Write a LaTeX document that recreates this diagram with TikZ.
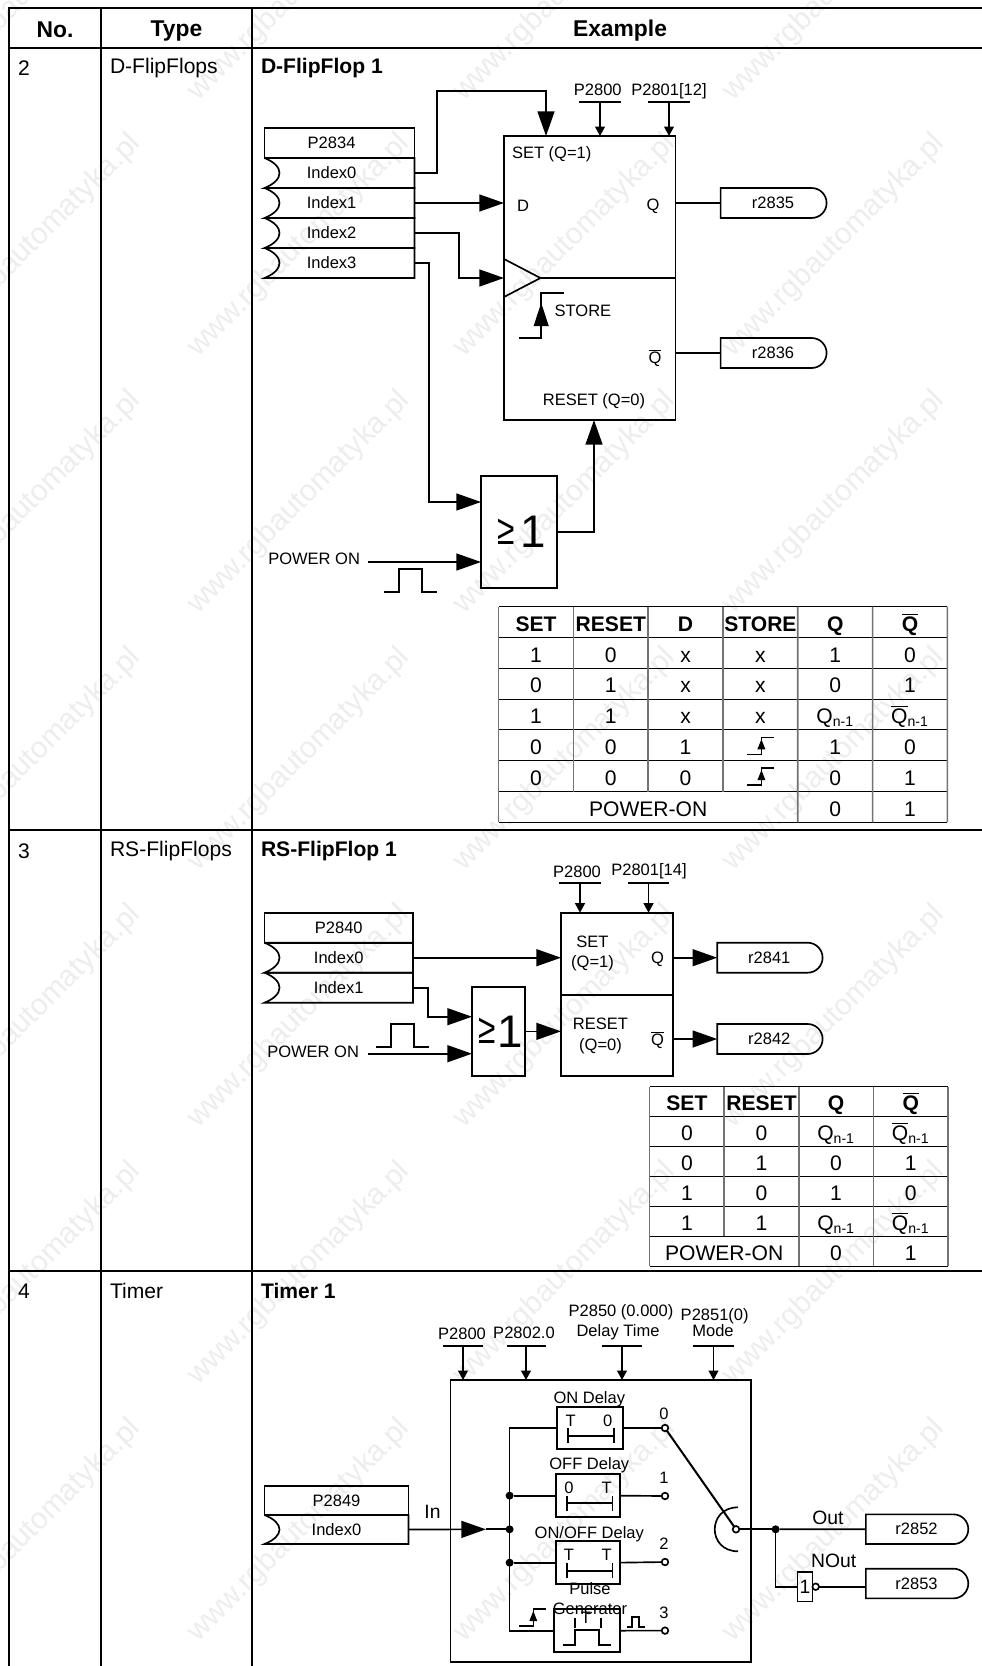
\documentclass[tikz,border=0pt]{standalone}
\usepackage{fontspec}
\setmainfont{Liberation Sans}
\usetikzlibrary{arrows.meta, positioning, shapes.misc, calc}

\newcommand{\px}{0.02cm}
\newcommand{\smalltxt}{\fontsize{9.4}{11}\selectfont}
\newcommand{\midtxt}{\fontsize{11}{13}\selectfont}
\newcommand{\celltxt}{\fontsize{12}{14}\selectfont}
\newcommand{\headtxt}{\fontsize{13}{15}\bfseries\selectfont}
\newcommand{\orsign}[1]{\kern3pt\raisebox{2pt}{\scalebox{0.75}[1]{\fontsize{24}{24}\selectfont ≥}}\kern#1{\fontsize{26}{26}\selectfont 1}}
\newcommand{\Qbar}{$\overline{\hbox{Q}}$}
\newcommand{\Qn}{Q\textsubscript{n-1}}
\newcommand{\Qbarn}{\Qbar\textsubscript{n-1}}
\newcommand{\indexedge}[1]{\draw[line] (#1.north west) -- (#1.north east) -- (#1.south east) -- (#1.south west)
  .. controls ($(#1.south west)+(20,-8)$) and ($(#1.north west)+(20,8)$) .. (#1.north west);}

\begin{document}
\begin{tikzpicture}[
    x=\px, y=-\px,
    node distance=0pt,
    boxsize/.style 2 args={minimum width=#1*\px, minimum height=#2*\px},
    line/.style={line width=0.95pt},
    frame/.style={line width=1.15pt},
    tag/.style={font=\smalltxt, inner sep=0pt, outer sep=0pt},
    tagleft/.style={tag, anchor=west},
    blk/.style={draw, line width=0.95pt, rectangle, inner sep=0pt, outer sep=0pt, font=\smalltxt},
    idx/.style={rectangle, inner sep=0pt, outer sep=0pt, font=\smalltxt},
    rbox/.style={blk, rounded rectangle, rounded rectangle west arc=none},
    orbox/.style={blk, font=\celltxt},
    parbar/.style={rectangle, fill=black, inner sep=0pt, outer sep=0pt, minimum height=1.1pt},
    arrowbig/.style={line, -{Triangle[length=14pt, width=9.6pt]}},
    arrowsmall/.style={line, -{Triangle[length=5.4pt, width=5.6pt]}},
    tspan/.style={line, {Bar[width=8.3pt]}-{Bar[width=8.3pt]}},
    contact/.style={circle, draw, line width=0.95pt, fill=white, inner sep=0pt, outer sep=0pt, minimum size=6.6*\px},
    dot/.style={circle, fill=black, inner sep=0pt, outer sep=0pt, minimum size=8*\px},
    cell/.style={rectangle, inner sep=0pt, outer sep=0pt, boxsize={74.8}{30.8}, font=\celltxt, text height=10.4pt, text depth=0pt},
    cellhead/.style={cell, font=\celltxt\bfseries},
    hline/.style={line width=0.55pt},
    vline/.style={line width=0.95pt, black!55},
    wm/.style={rotate=45, inner sep=0pt, black!7, font=\fontsize{17}{17}\selectfont, node contents=www.rgbautomatyka.pl},
    risemark/.pic={
      \draw[line width=0.7pt] (-13,9) -- (1,9) -- (1,-8) -- (14,-8);
      \fill (1,-6) -- (-3,4) -- (5,4) -- cycle;
    }
  ]
    \useasboundingbox (0,0) rectangle (982,1666);
    \clip (0,0) rectangle (982,1666);

    % Watermark
    \node (w11) at (30,-10) [wm];
    \node (w12) at (299,-10) [wm];
    \node (w13) at (565,-10) [wm];
    \node (w14) at (834,-10) [wm];
    \node (w21) at (30,246) [wm];
    \node (w22) at (299,246) [wm];
    \node (w23) at (565,246) [wm];
    \node (w24) at (834,246) [wm];
    \node (w31) at (30,503) [wm];
    \node (w32) at (299,503) [wm];
    \node (w33) at (565,503) [wm];
    \node (w34) at (834,503) [wm];
    \node (w41) at (30,760) [wm];
    \node (w42) at (299,760) [wm];
    \node (w43) at (565,760) [wm];
    \node (w44) at (834,760) [wm];
    \node (w51) at (30,1017) [wm];
    \node (w52) at (299,1017) [wm];
    \node (w53) at (565,1017) [wm];
    \node (w54) at (834,1017) [wm];
    \node (w61) at (30,1274) [wm];
    \node (w62) at (299,1274) [wm];
    \node (w63) at (565,1274) [wm];
    \node (w64) at (834,1274) [wm];
    \node (w71) at (30,1531) [wm];
    \node (w72) at (299,1531) [wm];
    \node (w73) at (565,1531) [wm];
    \node (w74) at (834,1531) [wm];

    % Page table
    \draw[frame] (982,8) -- (9,8) -- (9,1666);
    \draw[frame] (101,8) -- (101,1666);
    \draw[frame] (252,8) -- (252,1666);
    \draw[frame] (9,48) -- (982,48);
    \draw[frame] (9,830) -- (982,830);
    \draw[frame] (9,1271) -- (982,1271);
    \node[tag, font=\headtxt] (hno) at (55,30) {No.};
    \node[tag, font=\headtxt] (htype) at (176.5,31) {Type};
    \node[tag, font=\headtxt] (hexample) at (620,31) {Example};
    \node[tagleft, font=\celltxt] (no2) at (18,68) {2};
    \node[tagleft, font=\celltxt] (type2) at (110,68.5) {D-FlipFlops};
    \node[tagleft, font=\celltxt\bfseries] (title2) at (261,68.5) {D-FlipFlop 1};
    \node[tagleft, font=\celltxt] (no3) at (18,851) {3};
    \node[tagleft, font=\celltxt] (type3) at (110,851) {RS-FlipFlops};
    \node[tagleft, font=\celltxt\bfseries] (title3) at (261,851) {RS-FlipFlop 1};
    \node[tagleft, font=\celltxt] (no4) at (18,1291) {4};
    \node[tagleft, font=\celltxt] (type4) at (110,1291) {Timer};
    \node[tagleft, font=\celltxt\bfseries] (title4) at (261,1291) {Timer 1};

    % D-FlipFlop parameters
    \node[blk, boxsize={150}{30}] (p2834) at (339.5,143) {P2834\kern9pt};
    \node[idx, boxsize={150}{30}, below=of p2834] (i0) {Index0\kern9pt};
    \node[idx, boxsize={150}{30}, below=of i0] (i1) {Index1\kern9pt};
    \node[idx, boxsize={150}{30}, below=of i1] (i2) {Index2\kern9pt};
    \node[idx, boxsize={150}{30}, below=of i2] (i3) {Index3\kern9pt};
    \indexedge{i0}
    \indexedge{i1}
    \indexedge{i2}
    \indexedge{i3}

    % D-FlipFlop block
    \node[blk, boxsize={171.5}{284}] (ff) at (589.75,278) {};
    \coordinate (ffset) at (546,136);
    \coordinate (ffrst) at (594,420);
    \coordinate (clk) at (540.4,278);
    \draw[line] (504,259) -- (clk) -- (504,297);
    \draw[line] (clk) -- (clk -| ff.east);
    \node[tagleft] (lset) at (512,154) {SET (Q=1)};
    \node[tag] (ld) at (523,206) {D};
    \node[tag] (lq) at (653,206) {Q};
    \node[tag] (lqb) at (655,358) {\Qbar};
    \node[tag] (lrst) at (594,401) {RESET (Q=0)};
    \node[tagleft] (lstore) at (554.6,311) {STORE};
    \draw[line] (518.6,337.7) -- (541.2,337.7) -- (541.2,293.3) -- (564,293.3);
    \fill (541.2,303) -- (533.6,326) -- (548.8,326) -- cycle;
    \node[tag] (lp1) at (597.8,90) {P2800};
    \node[tag] (lp2) at (669,91) {P2801[12]};
    \node[parbar, minimum width=42*\px] (bp1) at (600,101.7) {};
    \node[parbar, minimum width=42*\px] (bp2) at (669,101.7) {};
    \draw[arrowsmall] (bp1.south) -- (bp1.south |- ff.north);
    \draw[arrowsmall] (bp2.south) -- (bp2.south |- ff.north);

    % D-FlipFlop outputs
    \node[rbox, boxsize={106}{30}] (r2835) at (773,203) {r2835};
    \node[rbox, boxsize={106}{30}] (r2836) at (773,353) {r2836};
    \draw[line] (r2835.west -| ff.east) -- (r2835.west);
    \draw[line] (r2836.west -| ff.east) -- (r2836.west);

    % OR gate and POWER ON
    \node[orbox, boxsize={75.7}{112}] (or1) at (519,532) {\orsign{2.8pt}};
    \coordinate (or1a) at (481,502);
    \coordinate (or1b) at (481,562);
    \node[tag, anchor=east] (pon1) at (360,559) {POWER ON};
    \draw[line] (384,592) -- (399,592) -- (399,569) -- (421.7,569) -- (421.7,592) -- (437,592);

    % D-FlipFlop arrows
    \draw[arrowbig] (i0.east) -- ++(22.5,0) -- ++(0,-82) -| (ffset);
    \draw[arrowbig] (i1.east) -- (i1.east -| ff.west);
    \draw[arrowbig] (i2.east) -- ++(44.5,0) |- (ff.west |- clk);
    \draw[arrowbig] (i3.east) -- ++(14.5,0) |- (or1a);
    \draw[arrowbig] ($(pon1.east)+(8,3)$) -- (or1b);
    \draw[arrowbig] (or1.east) -| (ffrst);

    % D-FlipFlop truth table
    \node[cellhead] (a11) at (536,622.1) {SET};
    \node[cellhead, right=of a11] (a12) {RESET};
    \node[cellhead, right=of a12] (a13) {D};
    \node[cellhead, right=of a13] (a14) {STORE};
    \node[cellhead, right=of a14] (a15) {Q};
    \node[cellhead, right=of a15] (a16) {\Qbar};
    \node[cell, below=of a11] (a21) {1};
    \node[cell, right=of a21] (a22) {0};
    \node[cell, right=of a22] (a23) {x};
    \node[cell, right=of a23] (a24) {x};
    \node[cell, right=of a24] (a25) {1};
    \node[cell, right=of a25] (a26) {0};
    \node[cell, below=of a21] (a31) {0};
    \node[cell, right=of a31] (a32) {1};
    \node[cell, right=of a32] (a33) {x};
    \node[cell, right=of a33] (a34) {x};
    \node[cell, right=of a34] (a35) {0};
    \node[cell, right=of a35] (a36) {1};
    \node[cell, below=of a31] (a41) {1};
    \node[cell, right=of a41] (a42) {1};
    \node[cell, right=of a42] (a43) {x};
    \node[cell, right=of a43] (a44) {x};
    \node[cell, right=of a44] (a45) {\Qn};
    \node[cell, right=of a45] (a46) {\Qbarn};
    \node[cell, below=of a41] (a51) {0};
    \node[cell, right=of a51] (a52) {0};
    \node[cell, right=of a52] (a53) {1};
    \node[cell, right=of a53] (a54) {};
    \node[cell, right=of a54] (a55) {1};
    \node[cell, right=of a55] (a56) {0};
    \node[cell, below=of a51] (a61) {0};
    \node[cell, right=of a61] (a62) {0};
    \node[cell, right=of a62] (a63) {0};
    \node[cell, right=of a63] (a64) {};
    \node[cell, right=of a64] (a65) {0};
    \node[cell, right=of a65] (a66) {1};
    \node[cell, boxsize={299.2}{30.8}, anchor=north west] (a71) at (a61.south west) {POWER-ON};
    \node[cell, right=of a71] (a75) {0};
    \node[cell, right=of a75] (a76) {1};
    \pic at (a54) {risemark};
    \pic at (a64) {risemark};
    \draw[hline] (a11.north west) -- (a16.north east);
    \draw[hline] (a21.north west) -- (a26.north east);
    \draw[hline] (a31.north west) -- (a36.north east);
    \draw[hline] (a41.north west) -- (a46.north east);
    \draw[hline] (a51.north west) -- (a56.north east);
    \draw[hline] (a61.north west) -- (a66.north east);
    \draw[hline] (a71.north west) -- (a76.north east);
    \draw[hline] (a71.south west) -- (a76.south east);
    \draw[vline] (a11.north west) -- (a71.south west);
    \draw[vline] (a11.north east) -- (a61.south east);
    \draw[vline] (a12.north east) -- (a62.south east);
    \draw[vline] (a13.north east) -- (a63.south east);
    \draw[vline] (a14.north east) -- (a71.south east);
    \draw[vline] (a15.north east) -- (a75.south east);
    \draw[vline] (a16.north east) -- (a76.south east);

    % RS-FlipFlop parameters
    \node[blk, boxsize={148.5}{30}] (p2840) at (338.75,927.7) {P2840};
    \node[idx, boxsize={148.5}{30}, below=of p2840] (i40) {Index0};
    \node[idx, boxsize={148.5}{30}, below=of i40] (i41) {Index1};
    \indexedge{i40}
    \indexedge{i41}

    % RS-FlipFlop block
    \node[blk, boxsize={111.7}{82}] (rsset) at (616.85,953.7) {};
    \node[blk, boxsize={111.7}{81.3}] (rsrst) at (616.85,1035.35) {};
    \node[tag] (lrset) at (592.5,941.7) {SET};
    \node[tag] (lrq1) at (592.5,963) {(Q=1)};
    \node[tag] (lrq) at (657.6,959) {Q};
    \node[tag] (lrrst) at (600.5,1024) {RESET};
    \node[tag] (lrq0) at (600.5,1046) {(Q=0)};
    \node[tag] (lrqb) at (657.6,1040) {\Qbar};
    \node[tag] (lr1) at (577,871.7) {P2800};
    \node[tag] (lr2) at (649,871.7) {P2801[14]};
    \node[parbar, minimum width=42*\px] (br1) at (580,882.7) {};
    \node[parbar, minimum width=41*\px] (br2) at (648.5,882.7) {};
    \draw[arrowsmall] (br1.south) -- (br1.south |- rsset.north);
    \draw[arrowsmall] (br2.south) -- (br2.south |- rsset.north);

    % RS-FlipFlop outputs
    \node[rbox, boxsize={105.4}{30}] (r2841) at (769.3,957.7) {r2841};
    \node[rbox, boxsize={105.4}{30}] (r2842) at (769.3,1039) {r2842};
    \draw[arrowbig] (r2841.west -| rsset.east) -- (r2841.west);
    \draw[arrowbig] (r2842.west -| rsrst.east) -- (r2842.west);

    % RS-FlipFlop OR gate
    \node[orbox, boxsize={53}{89.3}] (or2) at (498.5,1031.35) {\orsign{1pt}};
    \coordinate (or2a) at (472,1016.7);
    \coordinate (or2b) at (472,1053.7);
    \node[tag, anchor=east] (pon2) at (359,1051.7) {POWER ON};
    \draw[line] (376,1046.7) -- (391,1046.7) -- (391,1024) -- (413.7,1024) -- (413.7,1046.7) -- (428.8,1046.7);
    \draw[arrowbig] (i40.east) -- (i40.east -| rsset.west);
    \draw[arrowbig] (i41.east) -- ++(14.8,0) |- (or2a);
    \draw[arrowbig] ($(pon2.east)+(9,2)$) -- (or2b);
    \draw[arrowbig] (or2.east) -- (or2.east -| rsrst.west);

    % RS-FlipFlop truth table
    \node[cellhead, boxsize={74.6}{29.9}] (b11) at (686.9,1101.7) {SET};
    \node[cellhead, boxsize={74.6}{29.9}, right=of b11] (b12) {RESET};
    \node[cellhead, boxsize={74.6}{29.9}, right=of b12] (b13) {Q};
    \node[cellhead, boxsize={74.6}{29.9}, right=of b13] (b14) {\Qbar};
    \node[cell, boxsize={74.6}{29.9}, below=of b11] (b21) {0};
    \node[cell, boxsize={74.6}{29.9}, right=of b21] (b22) {0};
    \node[cell, boxsize={74.6}{29.9}, right=of b22] (b23) {\Qn};
    \node[cell, boxsize={74.6}{29.9}, right=of b23] (b24) {\Qbarn};
    \node[cell, boxsize={74.6}{29.9}, below=of b21] (b31) {0};
    \node[cell, boxsize={74.6}{29.9}, right=of b31] (b32) {1};
    \node[cell, boxsize={74.6}{29.9}, right=of b32] (b33) {0};
    \node[cell, boxsize={74.6}{29.9}, right=of b33] (b34) {1};
    \node[cell, boxsize={74.6}{29.9}, below=of b31] (b41) {1};
    \node[cell, boxsize={74.6}{29.9}, right=of b41] (b42) {0};
    \node[cell, boxsize={74.6}{29.9}, right=of b42] (b43) {1};
    \node[cell, boxsize={74.6}{29.9}, right=of b43] (b44) {0};
    \node[cell, boxsize={74.6}{29.9}, below=of b41] (b51) {1};
    \node[cell, boxsize={74.6}{29.9}, right=of b51] (b52) {1};
    \node[cell, boxsize={74.6}{29.9}, right=of b52] (b53) {\Qn};
    \node[cell, boxsize={74.6}{29.9}, right=of b53] (b54) {\Qbarn};
    \node[cell, boxsize={149.2}{29.9}, anchor=north west] (b61) at (b51.south west) {POWER-ON};
    \node[cell, boxsize={74.6}{29.9}, right=of b61] (b63) {0};
    \node[cell, boxsize={74.6}{29.9}, right=of b63] (b64) {1};
    \draw[hline] (b11.north west) -- (b14.north east);
    \draw[hline] (b21.north west) -- (b24.north east);
    \draw[hline] (b31.north west) -- (b34.north east);
    \draw[hline] (b41.north west) -- (b44.north east);
    \draw[hline] (b51.north west) -- (b54.north east);
    \draw[hline] (b61.north west) -- (b64.north east);
    \draw[hline] (b61.south west) -- (b64.south east);
    \draw[vline] (b11.north west) -- (b61.south west);
    \draw[vline] (b11.north east) -- (b51.south east);
    \draw[vline] (b12.north east) -- (b61.south east);
    \draw[vline] (b13.north east) -- (b63.south east);
    \draw[vline] (b14.north east) -- (b64.south east);

    % Timer parameters
    \node[blk, boxsize={144}{29}] (p2849) at (336.5,1500.5) {P2849};
    \node[idx, boxsize={144}{29}, below=of p2849] (i49) {Index0};
    \indexedge{i49}
    \node[tag, font=\midtxt] (lin) at (432.5,1512) {In};

    % Timer block
    \node[blk, boxsize={300.5}{281.7}] (tmr) at (600.75,1520.85) {};
    \node[tag] (lt1) at (462,1334) {P2800};
    \node[tag] (lt2) at (524,1333) {P2802.0};
    \node[tag] (lt3) at (621,1312.7) {P2850 (0.000)};
    \node[tag] (lt3b) at (618,1332.7) {Delay Time};
    \node[tag] (lt4) at (714.7,1316) {P2851(0)};
    \node[tag] (lt4b) at (713,1330.7) {Mode};
    \node[parbar, minimum width=40*\px] (bt1) at (463,1346) {};
    \node[parbar, minimum width=39*\px] (bt2) at (526,1346) {};
    \node[parbar, minimum width=39.6*\px] (bt3) at (622,1346) {};
    \node[parbar, minimum width=41*\px] (bt4) at (713.5,1346) {};
    \draw[arrowsmall] (bt1.south) -- (bt1.south |- tmr.north);
    \draw[arrowsmall] (bt2.south) -- (bt2.south |- tmr.north);
    \draw[arrowsmall] (bt3.south) -- (bt3.south |- tmr.north);
    \draw[arrowsmall] (bt4.south) -- (bt4.south |- tmr.north);

    % Timer modes
    \node[blk, boxsize={65.4}{42.6}] (onbox) at (590,1428) {};
    \node[blk, boxsize={64.3}{42.7}] (offbox) at (587.85,1495.65) {};
    \node[blk, boxsize={64.3}{42.7}] (onoffbox) at (587.85,1562.65) {};
    \node[blk, boxsize={66}{42.7}] (pulsebox) at (587,1630.65) {};
    \node[tag] (lon) at (589.3,1399) {ON Delay};
    \node[tag] (loff) at (589.3,1465) {OFF Delay};
    \node[tag] (lonoff) at (589.3,1534) {ON/OFF Delay};
    \node[tag] (lpulse) at (590,1589) {Pulse};
    \node[tag] (lgen) at (590,1608.3) {Generator};
    \node[tag] (ton1) at (570.7,1421) {T};
    \node[tag] (ton2) at (607.7,1421) {0};
    \node[tag] (toff1) at (569,1487.7) {0};
    \node[tag] (toff2) at (606.7,1487.7) {T};
    \node[tag] (toof1) at (569,1555) {T};
    \node[tag] (toof2) at (606.7,1555) {T};
    \node[tag] (tpul) at (586,1618) {T};
    \draw[tspan] (567.3,1435.7) -- (615,1435.7);
    \draw[tspan] (566,1503.3) -- (613.3,1503.3);
    \draw[tspan] (566,1570.7) -- (613.3,1570.7);
    \draw[line] (575,1618) -- (575,1628);
    \draw[line] (600.7,1618) -- (600.7,1628);
    \draw[line] (562.7,1644.7) -- (575,1644.7) -- (575,1630) -- (599.3,1630) -- (599.3,1644.7) -- (611,1644.7);
    \pic at (532.3,1617) {risemark};
    \draw[line] (626.7,1626.7) -- (631.7,1626.7) -- (631.7,1617.3) -- (639.3,1617.3) -- (639.3,1626.7) -- (644.7,1626.7);

    % Timer contacts
    \node[contact] (c0) at (665,1428) {};
    \node[contact] (c1) at (665,1496) {};
    \node[contact] (c2) at (665,1562) {};
    \node[contact] (c3) at (665,1630.6) {};
    \node[contact] (cout) at (736,1529.3) {};
    \node[tag] (l0) at (664,1413.3) {0};
    \node[tag] (l1) at (664,1478) {1};
    \node[tag] (l2) at (664,1543.3) {2};
    \node[tag] (l3) at (664,1612.7) {3};
    \draw[line] (onbox.east) -- (c0);
    \draw[line] (offbox.east) -- (c1);
    \draw[line] (onoffbox.east) -- (c2);
    \draw[line] (pulsebox.east) -- (c3);
    \draw[frame] (c0) -- (cout);
    \draw[line] ($(cout)+(2,-22)$) .. controls ($(cout)+(-29,-22)$) and ($(cout)+(-29,22)$) .. ($(cout)+(2,22)$);

    % Timer input bus
    \node[dot] (jin) at (509.6,1529.3) {};
    \node[dot] (j1) at (509.6,1495.65) {};
    \node[dot] (j2) at (509.6,1562.65) {};
    \coordinate (bustop) at (509.6,1428);
    \coordinate (busbot) at (509.6,1630.65);
    \coordinate (ina) at (486,1529.3);
    \draw[arrowbig] (i49.east) -- (ina);
    \draw[line] (ina) -- (jin);
    \draw[line] (onbox.west) -- (bustop) -- (busbot) -- (pulsebox.west);
    \draw[line] (j1) -- (offbox.west);
    \draw[line] (j2) -- (onoffbox.west);

    % Timer outputs
    \node[rbox, boxsize={102.4}{29.7}] (r2852) at (916.5,1529.2) {r2852};
    \node[rbox, boxsize={102.4}{29.7}] (r2853) at (916.5,1583.5) {r2853};
    \node[dot] (jout) at (775.6,1529.3) {};
    \node[blk, boxsize={14.7}{29.3}, font=\midtxt] (notg) at (805,1586.7) {1};
    \node[contact] (bub) at (815.7,1586.7) {};
    \node[tag, font=\midtxt] (lout) at (828,1518.3) {Out};
    \node[tag, font=\midtxt] (lnout) at (833.7,1560.7) {NOut};
    \draw[line] (cout) -- (jout);
    \draw[line] (jout) -- (r2852.west);
    \draw[line] (jout) |- (notg.west);
    \draw[line] (bub) -- (bub -| r2853.west);
  \end{tikzpicture}
\end{document}
